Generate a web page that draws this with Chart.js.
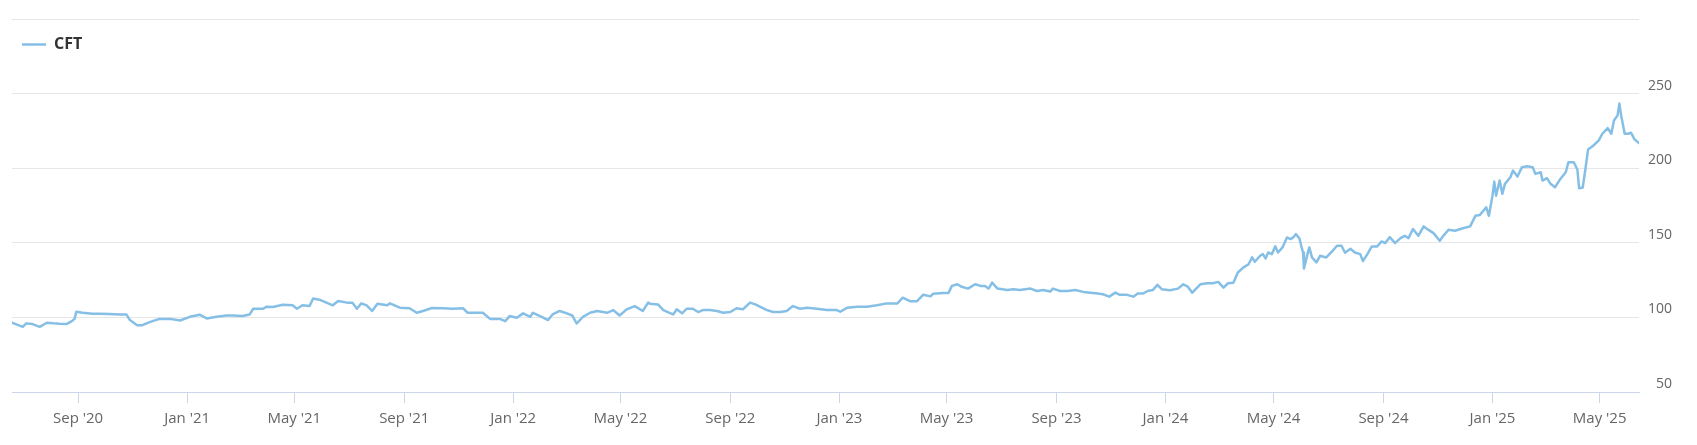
<!DOCTYPE html>
<html>
<head>
<meta charset="utf-8">
<script src="https://cdn.jsdelivr.net/npm/chart.js@4.4.1/dist/chart.umd.min.js"></script>
<style>
  html, body { margin: 0; padding: 0; background: #ffffff; }
  #wrap { width: 1697px; height: 445px; position: relative; }
</style>
</head>
<body>
<div id="wrap"><canvas id="c"></canvas></div>
<script>
const seriesName = 'CFT';
const dates = [
'2020-06-19','2020-07-01','2020-07-05','2020-07-12','2020-07-20','2020-07-28','2020-08-04','2020-08-11','2020-08-19','2020-08-25',
'2020-08-28','2020-08-30','2020-09-06','2020-09-17','2020-09-25','2020-10-06','2020-10-18','2020-10-25','2020-10-29','2020-11-06',
'2020-11-12','2020-11-20','2020-12-01','2020-12-13','2020-12-24','2021-01-04','2021-01-15','2021-01-23','2021-02-03','2021-02-14',
'2021-02-21','2021-03-04','2021-03-12','2021-03-16','2021-03-27','2021-03-31','2021-04-07','2021-04-18','2021-04-29','2021-05-04',
'2021-05-10','2021-05-18','2021-05-22','2021-05-29','2021-06-06','2021-06-13','2021-06-19','2021-06-29','2021-07-05','2021-07-10',
'2021-07-15','2021-07-21','2021-07-27','2021-08-02','2021-08-13','2021-08-16','2021-08-27','2021-09-07','2021-09-15','2021-09-22',
'2021-10-02','2021-10-14','2021-10-25','2021-11-06','2021-11-11','2021-11-21','2021-11-28','2021-12-06','2021-12-17','2021-12-23',
'2021-12-28','2022-01-05','2022-01-12','2022-01-20','2022-01-23','2022-01-31','2022-02-09','2022-02-14','2022-02-22','2022-03-02',
'2022-03-08','2022-03-13','2022-03-20','2022-03-28','2022-04-05','2022-04-16','2022-04-23','2022-04-30','2022-05-08','2022-05-17',
'2022-05-26','2022-06-01','2022-06-03','2022-06-12','2022-06-18','2022-06-23','2022-06-29','2022-07-03','2022-07-09','2022-07-14',
'2022-07-21','2022-07-27','2022-08-01','2022-08-09','2022-08-17','2022-08-24','2022-09-01','2022-09-08','2022-09-15','2022-09-23',
'2022-09-29','2022-10-04','2022-10-12','2022-10-19','2022-10-27','2022-11-03','2022-11-10','2022-11-18','2022-11-26','2022-12-07',
'2022-12-18','2022-12-29','2023-01-02','2023-01-10','2023-01-21','2023-02-01','2023-02-12','2023-02-23','2023-03-07','2023-03-13',
'2023-03-21','2023-03-29','2023-04-05','2023-04-13','2023-04-16','2023-04-27','2023-05-03','2023-05-07','2023-05-13','2023-05-18',
'2023-05-25','2023-06-02','2023-06-08','2023-06-13','2023-06-17','2023-06-21','2023-06-27','2023-07-08','2023-07-15','2023-07-22',
'2023-08-03','2023-08-10','2023-08-17','2023-08-25','2023-08-28','2023-09-05','2023-09-13','2023-09-22','2023-10-01','2023-10-09',
'2023-10-17','2023-10-23','2023-10-30','2023-11-06','2023-11-11','2023-11-19','2023-11-26','2023-12-01','2023-12-07','2023-12-12',
'2023-12-18','2023-12-23','2023-12-28','2024-01-06','2024-01-15','2024-01-21','2024-01-26','2024-01-31','2024-02-09','2024-02-17',
'2024-02-23','2024-02-29','2024-03-06','2024-03-11','2024-03-17','2024-03-22','2024-03-28','2024-04-03','2024-04-07','2024-04-10',
'2024-04-16','2024-04-19','2024-04-22','2024-04-25','2024-04-29','2024-05-03','2024-05-06','2024-05-11','2024-05-16','2024-05-20',
'2024-05-23','2024-05-26','2024-05-30','2024-06-01','2024-06-03','2024-06-04','2024-06-08','2024-06-10','2024-06-13','2024-06-18',
'2024-06-22','2024-06-29','2024-07-06','2024-07-11','2024-07-16','2024-07-20','2024-07-26','2024-07-31','2024-08-06','2024-08-09',
'2024-08-14','2024-08-19','2024-08-25','2024-08-30','2024-09-03','2024-09-08','2024-09-14','2024-09-20','2024-09-25','2024-09-29',
'2024-10-04','2024-10-10','2024-10-16','2024-10-21','2024-10-27','2024-11-03','2024-11-07','2024-11-13','2024-11-20','2024-11-28',
'2024-12-07','2024-12-13','2024-12-18','2024-12-25','2024-12-28','2025-01-01','2025-01-03','2025-01-05','2025-01-09','2025-01-12',
'2025-01-15','2025-01-21','2025-01-24','2025-01-29','2025-02-03','2025-02-09','2025-02-15','2025-02-18','2025-02-24','2025-02-26',
'2025-03-03','2025-03-07','2025-03-12','2025-03-18','2025-03-24','2025-03-27','2025-04-02','2025-04-06','2025-04-08','2025-04-12',
'2025-04-15','2025-04-18','2025-04-24','2025-04-30','2025-05-04','2025-05-10','2025-05-14','2025-05-17','2025-05-21','2025-05-23',
'2025-05-25','2025-05-29','2025-06-02','2025-06-05','2025-06-09','2025-06-14'
];
const values = [
96.4,93.7,96.0,95.5,93.7,96.4,96.0,95.7,95.5,97.5,
99.0,103.8,103.1,102.5,102.5,102.2,102.0,102.0,98.2,94.8,
94.8,96.8,99.0,99.0,97.9,100.4,101.8,99.3,100.4,101.3,
101.3,100.9,102.0,105.8,105.8,107.2,107.0,108.5,108.1,105.8,
108.1,107.6,112.6,111.9,109.9,108.1,111.0,109.9,109.9,105.8,
109.4,108.1,104.3,109.2,108.1,109.4,106.5,106.1,103.1,104.3,
106.3,106.1,105.8,106.1,103.1,103.1,103.1,99.0,99.0,97.5,
100.9,99.8,102.7,100.4,103.1,100.9,98.2,102.0,104.3,102.7,
101.3,95.9,100.4,103.1,104.3,103.1,104.9,101.3,105.4,107.6,
104.3,109.9,109.2,108.7,104.9,103.6,102.0,105.4,102.7,105.8,
105.8,103.6,104.9,104.9,104.3,103.1,103.6,106.1,105.4,109.9,
108.7,107.2,104.9,103.6,103.6,104.3,107.6,105.8,106.5,105.8,
104.9,104.9,103.8,106.5,107.2,107.2,108.1,109.4,109.4,113.2,
110.9,110.9,115.2,114.1,115.9,116.3,116.3,121.1,122.2,120.5,
119.3,122.2,121.1,121.1,119.3,123.3,119.3,118.4,118.8,118.4,
119.3,117.7,118.4,117.3,119.3,117.7,117.7,118.4,117.1,116.6,
116.0,115.5,113.9,116.6,115.1,115.1,113.9,116.0,116.0,117.7,
118.4,121.8,118.8,118.2,119.3,122.2,120.6,116.6,122.2,122.9,
122.9,123.8,120.0,122.9,123.3,130.1,133.4,135.6,140.2,137.3,
141.3,142.4,139.5,143.5,142.4,147.6,143.5,146.9,153.6,152.5,
153.6,155.8,152.9,147.8,143.5,132.8,142.4,146.9,140.2,136.9,
141.3,140.2,144.6,148.0,148.0,143.3,146.0,143.5,142.4,137.8,
142.4,147.6,147.6,150.9,149.8,153.8,149.8,153.1,154.7,153.1,
159.2,154.7,161.0,158.8,156.5,151.4,154.7,158.8,158.1,159.6,
161.0,168.2,168.7,173.8,168.1,181.6,191.0,181.6,191.7,182.8,
189.5,193.9,198.4,194.4,200.7,201.3,200.7,196.2,197.3,191.7,
193.3,189.5,187.2,192.8,197.3,204.0,204.0,199.1,186.5,187.0,
199.3,212.5,215.2,218.6,223.1,226.9,223.1,232.0,235.4,243.3,
235.4,223.1,223.1,223.8,219.3,216.8
];
const tickDates = ['2020-09-01','2021-01-01','2021-05-01','2021-09-01','2022-01-01','2022-05-01','2022-09-01','2023-01-01','2023-05-01','2023-09-01','2024-01-01','2024-05-01','2024-09-01','2025-01-01','2025-05-01'];
const tickLabels = ["Sep '20","Jan '21","May '21","Sep '21","Jan '22","May '22","Sep '22","Jan '23","May '23","Sep '23","Jan '24","May '24","Sep '24","Jan '25","May '25"];
const yTicks = [50, 100, 150, 200, 250, 300];
const yHidden = [300];

function toDay(s) {
  const p = s.split('-').map(Number);
  return Date.UTC(p[0], p[1] - 1, p[2]) / 86400000;
}

const points = dates.map((d, i) => ({ x: toDay(d), y: values[i] }));

Chart.defaults.font.family = "'Open Sans', sans-serif";
Chart.defaults.color = '#666666';

new Chart(document.getElementById('c'), {
  type: 'line',
  data: {
    datasets: [{
      label: seriesName,
      data: points,
      borderColor: '#85bfe6',
      backgroundColor: '#85bfe6',
      borderWidth: 2.5,
      pointRadius: 0,
      pointHoverRadius: 0,
      tension: 0,
      fill: false,
      borderJoinStyle: 'round',
      borderCapStyle: 'round'
    }]
  },
  options: {
    responsive: true,
    maintainAspectRatio: false,
    animation: false,
    layout: { padding: { top: 19, left: 12, right: 0, bottom: 0 } },
    plugins: {
      tooltip: { enabled: false },
      legend: {
        position: 'chartArea',
        align: 'start',
        title: { display: true, text: '', font: { size: 5, lineHeight: 5.3 }, padding: 0 },
        labels: {
          usePointStyle: true,
          pointStyle: 'line',
          pointStyleWidth: 24,
          padding: 10,
          color: '#333333',
          font: { size: 16, weight: 'bold' }
        }
      }
    },
    scales: {
      x: {
        type: 'linear',
        min: toDay(dates[0]),
        max: toDay(dates[dates.length - 1]),
        afterBuildTicks: (scale) => {
          scale.ticks = tickDates.map(d => ({ value: toDay(d) }));
        },
        afterFit: (scale) => { scale.height = 53; },
        grid: {
          display: true,
          drawOnChartArea: false,
          drawTicks: true,
          tickLength: 11,
          color: '#ccd6eb',
          lineWidth: 1
        },
        border: { display: true, color: '#ccd6eb', width: 1 },
        ticks: {
          autoSkip: false,
          maxRotation: 0,
          padding: 7,
          color: '#666666',
          font: { size: 15 },
          callback: (v, i) => tickLabels[i]
        }
      },
      y: {
        type: 'linear',
        position: 'right',
        min: yTicks[0],
        max: yTicks[yTicks.length - 1],
        afterBuildTicks: (scale) => {
          scale.ticks = yTicks.map(v => ({ value: v }));
        },
        afterFit: (scale) => {
          scale.width = 58;
          scale.paddingTop = 0;
          scale.paddingBottom = 0;
        },
        grid: { color: '#e6e6e6', lineWidth: 1, drawTicks: false },
        border: { display: false },
        ticks: {
          mirror: true,
          crossAlign: 'near',
          padding: 33,
          labelOffset: -8,
          color: '#666666',
          font: { size: 14 },
          callback: (v) => yHidden.includes(v) ? '' : String(v)
        }
      }
    }
  }
});
</script>
</body>
</html>
